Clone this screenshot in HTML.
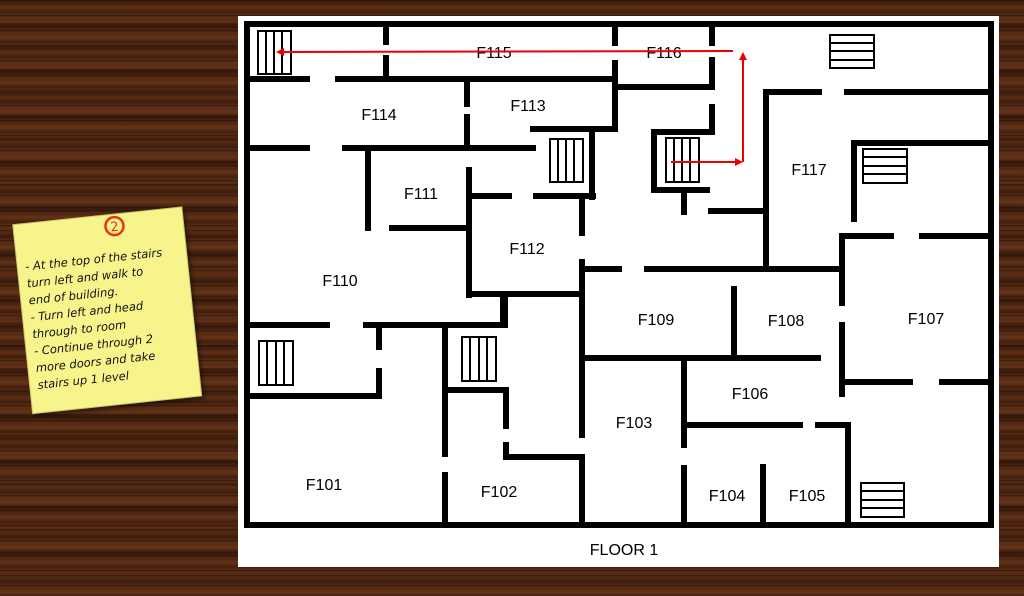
<!DOCTYPE html>
<html><head><meta charset="utf-8"><style>
html,body{margin:0;padding:0;width:1024px;height:596px;overflow:hidden}
body{background:#552a14;
background-image:
repeating-linear-gradient(180deg, rgba(25,10,3,0.6) 0px, rgba(25,10,3,0) 2px, rgba(0,0,0,0) 5px, rgba(130,70,32,0.3) 7px, rgba(0,0,0,0) 9px, rgba(35,12,4,0.45) 12px, rgba(0,0,0,0) 15px),
repeating-linear-gradient(180deg, rgba(20,8,2,0.4) 0px, rgba(0,0,0,0) 9px, rgba(120,65,30,0.2) 17px, rgba(0,0,0,0) 23px);}
svg{position:absolute;left:0;top:0}
</style></head><body>
<svg width="1024" height="596" viewBox="0 0 1024 596">
<rect x="238" y="16" width="761" height="551" fill="#fff"/>
<g stroke="#000" stroke-width="6" fill="none" stroke-linecap="square">
<rect x="247" y="24" width="744" height="501" stroke-linecap="butt"/>
<line x1="386" y1="24" x2="386" y2="42"/><line x1="386" y1="58" x2="386" y2="78"/>
<line x1="247" y1="79" x2="307" y2="79"/><line x1="338" y1="79" x2="613" y2="79"/>
<line x1="615" y1="24" x2="615" y2="43"/><line x1="615" y1="63" x2="615" y2="129"/>
<line x1="533" y1="129" x2="615" y2="129"/>
<line x1="712" y1="24" x2="712" y2="43"/><line x1="712" y1="60" x2="712" y2="87"/>
<line x1="615" y1="87" x2="712" y2="87"/>
<line x1="467" y1="82" x2="467" y2="104"/><line x1="467" y1="117" x2="467" y2="147"/>
<line x1="247" y1="148" x2="307" y2="148"/><line x1="345" y1="148" x2="533" y2="148"/>
<line x1="368" y1="148" x2="368" y2="228"/>
<line x1="392" y1="228" x2="467" y2="228"/>
<line x1="469" y1="170" x2="469" y2="295"/>
<line x1="470" y1="196" x2="509" y2="196"/><line x1="536" y1="196" x2="593" y2="196"/>
<line x1="592" y1="129" x2="592" y2="197"/>
<line x1="582" y1="197" x2="582" y2="233"/>
<line x1="469" y1="294" x2="582" y2="294"/>
<line x1="582" y1="262" x2="582" y2="435"/>
<line x1="582" y1="269" x2="619" y2="269"/><line x1="647" y1="269" x2="840" y2="269"/>
<line x1="503" y1="296" x2="503" y2="325"/>
<line x1="654" y1="132" x2="654" y2="190"/><line x1="654" y1="132" x2="712" y2="132"/>
<line x1="712" y1="107" x2="712" y2="132"/><line x1="654" y1="190" x2="707" y2="190"/>
<line x1="684" y1="192" x2="684" y2="212"/>
<line x1="711" y1="211" x2="765" y2="211"/>
<line x1="766" y1="92" x2="766" y2="268"/>
<line x1="766" y1="92" x2="819" y2="92"/><line x1="847" y1="92" x2="991" y2="92"/>
<line x1="854" y1="143" x2="854" y2="219"/><line x1="854" y1="143" x2="991" y2="143"/>
<line x1="842" y1="236" x2="891" y2="236"/><line x1="922" y1="236" x2="991" y2="236"/>
<line x1="842" y1="236" x2="842" y2="303"/><line x1="842" y1="325" x2="842" y2="394"/>
<line x1="842" y1="382" x2="910" y2="382"/><line x1="942" y1="382" x2="991" y2="382"/>
<line x1="247" y1="325" x2="327" y2="325"/><line x1="366" y1="325" x2="505" y2="325"/>
<line x1="505" y1="300" x2="505" y2="325"/>
<line x1="379" y1="329" x2="379" y2="347"/><line x1="379" y1="371" x2="379" y2="396"/>
<line x1="247" y1="396" x2="379" y2="396"/>
<line x1="445" y1="327" x2="445" y2="454"/><line x1="445" y1="475" x2="445" y2="525"/>
<line x1="445" y1="390" x2="506" y2="390"/>
<line x1="506" y1="390" x2="506" y2="426"/><line x1="506" y1="445" x2="506" y2="457"/>
<line x1="506" y1="457" x2="582" y2="457"/>
<line x1="582" y1="457" x2="582" y2="525"/>
<line x1="582" y1="358" x2="818" y2="358"/>
<line x1="734" y1="289" x2="734" y2="358"/>
<line x1="684" y1="362" x2="684" y2="445"/><line x1="684" y1="468" x2="684" y2="525"/>
<line x1="684" y1="425" x2="800" y2="425"/><line x1="818" y1="425" x2="848" y2="425"/>
<line x1="848" y1="425" x2="848" y2="525"/>
<line x1="763" y1="467" x2="763" y2="525"/>
</g>
<g stroke="#000" stroke-width="2" fill="#fff">
<rect x="258" y="31" width="33" height="43"/>
<rect x="550" y="139" width="33" height="43"/>
<rect x="666" y="138" width="33" height="44"/>
<rect x="259" y="341" width="34" height="44"/>
<rect x="462" y="337" width="34" height="44"/>
<rect x="830" y="35" width="44" height="33"/>
<rect x="863" y="149" width="44" height="34"/>
<rect x="861" y="483" width="43" height="34"/>
</g>
<g stroke="#000" stroke-width="2">
<path d="M266 31V74M274 31V74M282 31V74"/>
<path d="M558 139V182M566 139V182M574 139V182"/>
<path d="M674 138V182M682 138V182M690 138V182"/>
<path d="M267 341V385M276 341V385M284 341V385"/>
<path d="M470 337V381M479 337V381M487 337V381"/>
<path d="M830 43H874M830 51H874M830 60H874"/>
<path d="M863 157H907M863 166H907M863 174H907"/>
<path d="M861 491H904M861 500H904M861 508H904"/>
</g>
<g font-family="'Liberation Sans',sans-serif" font-size="16" fill="#000" text-anchor="middle">
<text x="494" y="58">F115</text><text x="664" y="58">F116</text>
<text x="379" y="120">F114</text><text x="528" y="111">F113</text>
<text x="421" y="199">F111</text><text x="527" y="254">F112</text>
<text x="340" y="286">F110</text><text x="809" y="175">F117</text>
<text x="656" y="325">F109</text><text x="786" y="326">F108</text>
<text x="926" y="324">F107</text><text x="750" y="399">F106</text>
<text x="634" y="428">F103</text><text x="324" y="490">F101</text>
<text x="499" y="497">F102</text><text x="727" y="501">F104</text>
<text x="807" y="501">F105</text><text x="624" y="555">FLOOR 1</text>
</g>
<g stroke="#e00" stroke-width="2" fill="#e00">
<line x1="733" y1="51" x2="282" y2="52"/><path d="M276 52l8-4v8z" stroke="none"/>
<line x1="671" y1="162" x2="738" y2="162"/><path d="M743 162l-8-4v8z" stroke="none"/>
<line x1="743" y1="162" x2="743" y2="58"/><path d="M743 52l-4 8h8z" stroke="none"/>
</g>
<g transform="rotate(-6 110 308)">
<rect x="22" y="215" width="170" height="190" fill="#f8f48c" stroke="#c9c46a" stroke-width="1" style="filter:drop-shadow(2px 3px 2px rgba(0,0,0,.5))"/>
<circle cx="123" cy="227" r="9" fill="none" stroke="#e8321c" stroke-width="2.5"/>
<text x="123" y="232" font-family="'DejaVu Sans',sans-serif" font-size="13" fill="#e8321c" text-anchor="middle">2</text>
<g font-family="'DejaVu Sans',sans-serif" font-size="11.5" font-style="italic" fill="#111">
<text x="30" y="262">- At the top of the stairs</text>
<text x="30" y="279">turn left and walk to</text>
<text x="30" y="296">end of building.</text>
<text x="30" y="313">- Turn left and head</text>
<text x="30" y="330">through to room</text>
<text x="30" y="347">- Continue through 2</text>
<text x="30" y="364">more doors and take</text>
<text x="30" y="381">stairs up 1 level</text>
</g>
</g>
</svg>
</body></html>
